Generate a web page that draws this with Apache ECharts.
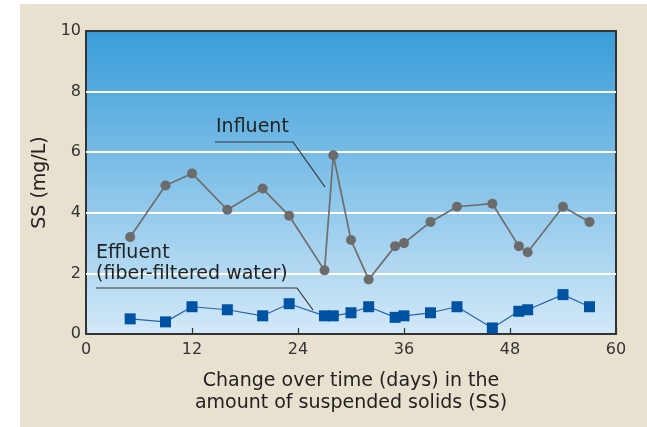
<!DOCTYPE html>
<html>
<head>
<meta charset="utf-8">
<script src="https://cdn.jsdelivr.net/npm/echarts@6/dist/echarts.min.js"></script>
<style>
  html, body { margin: 0; padding: 0; background: #fff; }
  #main { width: 647px; height: 427px; }
</style>
</head>
<body>
<div id="main"></div>
<script>
// days on which samples were taken
var days = [5, 9, 12, 16, 20, 23, 27, 28, 30, 32, 35, 36, 39, 42, 46, 49, 50, 54, 57];
var influent = [3.2, 4.9, 5.3, 4.1, 4.8, 3.9, 2.1, 5.9, 3.1, 1.8, 2.9, 3.0, 3.7, 4.2, 4.3, 2.9, 2.7, 4.2, 3.7];
var effluent = [0.5, 0.4, 0.9, 0.8, 0.6, 1.0, 0.6, 0.6, 0.7, 0.9, 0.55, 0.6, 0.7, 0.9, 0.2, 0.75, 0.8, 1.3, 0.9];
var xTicks = [0, 12, 24, 36, 48, 60];
var yTicks = [0, 2, 4, 6, 8, 10];

var font = '"DejaVu Sans", "Noto Sans", sans-serif';

var myChart = echarts.init(document.getElementById('main'));

function pairs(ys) {
  return days.map(function (d, i) { return [d, ys[i]]; });
}

var option = {
  backgroundColor: '#fff',
  graphic: [
    { type: 'rect', z: -10, silent: true, shape: { x: 20, y: 4, width: 627, height: 423 }, style: { fill: '#e9e1cf' } },
    // Influent label
    { type: 'text', z: 10, left: 216, top: 118, style: { text: 'Influent', font: '19px ' + font, fill: '#222' } },
    { type: 'polyline', z: 10, shape: { points: [[215, 142], [293, 142], [325, 187]] }, style: { stroke: '#333', lineWidth: 1.2, fill: null } },
    // Effluent label
    { type: 'text', z: 10, left: 96, top: 243, style: { text: 'Effluent\n(fiber-filtered water)', font: '19px ' + font, lineHeight: 21, fill: '#222' } },
    { type: 'polyline', z: 10, shape: { points: [[96, 288], [297, 288], [313, 310]] }, style: { stroke: '#333', lineWidth: 1.2, fill: null } }
  ],
  grid: {
    left: 86, right: 31, top: 31, bottom: 93,
    show: true,
    borderColor: '#333',
    borderWidth: 2,
    backgroundColor: new echarts.graphic.LinearGradient(0, 0, 0, 1, [
      { offset: 0, color: '#389cd9' },
      { offset: 1, color: '#d3e9f8' }
    ])
  },
  xAxis: {
    type: 'value',
    min: xTicks[0], max: xTicks[xTicks.length - 1], interval: 12,
    name: 'Change over time (days) in the\namount of suspended solids (SS)',
    nameLocation: 'middle',
    nameGap: 36,
    nameTextStyle: { fontFamily: font, fontSize: 19, color: '#222', lineHeight: 22, verticalAlign: 'top' },
    axisLine: { show: false },
    axisTick: { show: true, inside: true, length: 6, lineStyle: { color: '#333', width: 1.2 } },
    axisLabel: { fontFamily: font, fontSize: 16, color: '#333', margin: 8 },
    splitLine: { show: false }
  },
  yAxis: {
    type: 'value',
    min: yTicks[0], max: yTicks[yTicks.length - 1], interval: 2,
    name: 'SS (mg/L)',
    nameLocation: 'middle',
    nameGap: 30,
    nameTextStyle: { fontFamily: font, fontSize: 19, color: '#222' },
    axisLine: { show: false },
    axisTick: { show: false },
    axisLabel: { fontFamily: font, fontSize: 16, color: '#333', margin: 5 },
    splitLine: { show: true, showMinLine: false, showMaxLine: false, lineStyle: { color: '#ffffff', width: 2 } }
  },
  series: [
    {
      name: 'Influent',
      type: 'line',
      data: pairs(influent),
      symbol: 'circle',
      symbolSize: 10,
      itemStyle: { color: '#6b6b6b' },
      lineStyle: { color: '#6e6e6e', width: 1.7 },
      z: 3
    },
    {
      name: 'Effluent',
      type: 'line',
      data: pairs(effluent),
      symbol: 'rect',
      symbolSize: 11,
      itemStyle: { color: '#0052a3' },
      lineStyle: { color: '#2a63ad', width: 1.2 },
      z: 4
    }
  ]
};
myChart.setOption(option);
</script>
</body>
</html>
